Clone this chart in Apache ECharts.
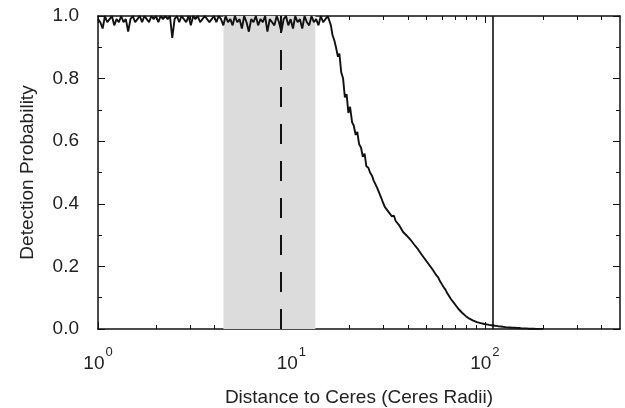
<!DOCTYPE html>
<html>
<head>
    <meta charset="utf-8">
    <title>Detection probability vs distance to Ceres</title>
    <script src="https://cdn.jsdelivr.net/npm/echarts@6/dist/echarts.min.js"></script>
</head>
<body style="margin:0;background:#fff;">
    <div id="main" style="width:625px;height:408px;"></div>
    <script type="text/javascript">
        // x positions of the flat part: log-spaced bins from 1 to ~15 Ceres radii
        var flatLogStep = 0.012;
        var flatProb = [
            0.99, 0.98, 0.96, 1.0, 0.98, 0.99, 1.0, 0.97, 0.99, 0.98,
            1.0, 0.98, 0.99, 0.95, 0.99, 1.0, 0.98, 0.99, 1.0, 0.98,
            1.0, 0.99, 0.98, 1.0, 0.99, 1.0, 0.98, 1.0, 0.99, 1.0,
            0.99, 1.0, 0.93, 0.99, 1.0, 0.98, 1.0, 0.99, 0.98, 1.0,
            0.97, 1.0, 0.99, 1.0, 0.98, 0.99, 1.0, 0.99, 0.98, 0.99,
            1.0, 0.98, 1.0, 0.99, 0.97, 1.0, 0.98, 0.99, 0.97, 1.0,
            0.98, 0.99, 0.96, 1.0, 0.98, 0.95, 0.99, 0.98, 1.0, 0.97,
            0.99, 0.98, 1.0, 0.95, 0.99, 0.98, 0.97, 1.0, 0.98, 0.95,
            0.99, 1.0, 0.97, 0.99, 0.96, 1.0, 0.98, 0.99, 0.96, 1.0,
            0.98, 0.97, 1.0, 0.98, 0.99, 0.97, 1.0, 0.98, 0.99, 1.0
        ];
        // falling part, [distance, probability]
        var tailPoints = [
            [16.0, 0.97], [16.3, 0.94], [16.7, 0.92], [17.0, 0.90], [17.4, 0.87], [17.7, 0.88],
            [18.1, 0.82], [18.5, 0.80], [18.9, 0.74], [19.3, 0.75], [19.7, 0.69], [20.1, 0.71],
            [20.6, 0.66], [21.0, 0.65], [21.5, 0.62], [21.9, 0.63], [22.4, 0.59], [22.9, 0.58],
            [23.4, 0.55], [23.9, 0.56], [24.4, 0.52], [25.0, 0.515], [25.5, 0.50], [26.1, 0.49],
            [26.6, 0.475], [27.2, 0.47], [27.8, 0.45], [28.4, 0.445], [29.1, 0.42], [29.7, 0.405],
            [30.4, 0.39], [31.0, 0.395], [31.7, 0.375], [32.4, 0.38], [33.1, 0.36], [33.9, 0.362],
            [34.6, 0.345], [35.4, 0.348], [36.2, 0.33], [37.0, 0.325], [37.8, 0.31], [38.6, 0.312],
            [39.5, 0.298], [40.4, 0.30], [41.3, 0.285], [42.2, 0.283], [43.1, 0.27], [44.1, 0.272],
            [45.1, 0.255], [46.1, 0.252], [47.1, 0.238], [48.1, 0.236], [49.2, 0.222], [50.3, 0.22],
            [51.4, 0.206], [52.5, 0.203], [53.7, 0.19], [54.9, 0.184], [56.1, 0.172], [57.4, 0.165],
            [58.6, 0.153], [59.9, 0.148], [61.3, 0.133], [62.6, 0.126], [64.0, 0.114], [65.5, 0.11],
            [66.9, 0.095], [68.4, 0.09], [69.9, 0.08], [71.5, 0.074], [73.1, 0.064], [74.7, 0.06],
            [76.3, 0.052], [78.0, 0.047], [79.8, 0.041], [81.5, 0.04], [83.3, 0.033], [85.2, 0.032],
            [87.1, 0.027], [89.0, 0.026], [91.0, 0.022], [93.0, 0.022], [95.1, 0.019], [97.2, 0.019],
            [99.4, 0.016], [102, 0.015], [105, 0.013], [108, 0.012], [111, 0.011], [114, 0.01],
            [117, 0.009], [121, 0.008], [124, 0.007], [128, 0.006], [131, 0.006], [135, 0.005],
            [139, 0.004], [143, 0.004], [147, 0.003], [151, 0.003], [155, 0.002], [160, 0.002],
            [164, 0.002], [169, 0.001], [174, 0.001], [179, 0.001], [184, 0.0005], [190, 0.0005],
            [200, 0.0003]
        ];
        var shadeRange = [4.45, 13.3];
        var dashedAt = 8.8;
        var solidAt = 110;
        var xMajorTicks = [1, 10, 100];
        var xMinorTicks = [2, 3, 4, 5, 6, 7, 8, 9, 20, 30, 40, 50, 60, 70, 80, 90, 200, 300, 400];

        var curve = flatProb.map(function (p, i) {
            return [Math.pow(10, i * flatLogStep), p];
        }).concat(tailPoints);

        var font = "'Liberation Sans', Arial, sans-serif";
        var textColor = '#222';

        function logAxis(pos, ticks, len, withLabels, withLine) {
            return {
                type: 'log', logBase: 10, min: 1, max: 500, position: pos,
                axisLine: { show: withLine, onZero: false, lineStyle: { color: '#111', width: 1.5 } },
                axisTick: { show: true, inside: true, length: len, customValues: ticks,
                    lineStyle: { color: '#111', width: 1 } },
                axisLabel: withLabels ? {
                    show: true, margin: 17, customValues: xMajorTicks,
                    fontFamily: font, color: textColor,
                    formatter: function (v) {
                        return '{b|10}{s|' + Math.round(Math.log10(v)) + '}';
                    },
                    rich: {
                        b: { fontSize: 19, fontFamily: font, color: textColor, verticalAlign: 'bottom', padding: [8, 0, 0, 0] },
                        s: { fontSize: 13, fontFamily: font, color: textColor, verticalAlign: 'top', padding: [0, 0, 9, 1] }
                    }
                } : { show: false },
                splitLine: { show: false },
                minorTick: { show: false },
                name: withLabels ? 'Distance to Ceres (Ceres Radii)' : '',
                nameLocation: 'middle', nameGap: 59,
                nameTextStyle: { fontSize: 19, fontFamily: font, color: textColor }
            };
        }

        function probAxis(pos, withLabels) {
            return {
                type: 'value', min: 0, max: 1, interval: 0.2, position: pos,
                axisLine: { show: true, onZero: false, lineStyle: { color: '#111', width: 1.5 } },
                axisTick: { show: true, inside: true, length: 7, lineStyle: { color: '#111', width: 1 } },
                minorTick: { show: true, splitNumber: 2, length: 4, lineStyle: { color: '#111', width: 1 } },
                axisLabel: withLabels ? {
                    show: true, margin: 19, fontSize: 19, fontFamily: font, color: textColor,
                    formatter: function (v) { return v.toFixed(1); }
                } : { show: false },
                splitLine: { show: false },
                name: withLabels ? 'Detection Probability' : '',
                nameLocation: 'middle', nameGap: 61,
                nameTextStyle: { fontSize: 19, fontFamily: font, color: textColor }
            };
        }

        var myChart = echarts.init(document.getElementById('main'), null, { renderer: 'canvas' });

        var option = {
            animation: false,
            backgroundColor: '#fff',
            grid: { left: 98, right: 5, top: 16, bottom: 79, containLabel: false, outerBoundsMode: 'none' },
            xAxis: [
                logAxis('bottom', xMajorTicks, 7, true, true),
                logAxis('bottom', xMinorTicks, 4, false, false),
                logAxis('top', xMajorTicks, 7, false, true),
                logAxis('top', xMinorTicks, 4, false, false)
            ],
            yAxis: [probAxis('left', true), probAxis('right', false)],
            series: [{
                type: 'line',
                xAxisIndex: 0, yAxisIndex: 0,
                data: curve,
                showSymbol: false,
                lineStyle: { color: '#111', width: 1.9 },
                z: 5,
                markArea: {
                    silent: true,
                    itemStyle: { color: '#dcdcdc' },
                    data: [[{ xAxis: shadeRange[0] }, { xAxis: shadeRange[1] }]]
                },
                markLine: {
                    silent: true,
                    symbol: 'none',
                    label: { show: false },
                    data: [
                        { xAxis: dashedAt, lineStyle: { color: '#111', width: 2, type: [20, 17] } },
                        { xAxis: solidAt, lineStyle: { color: '#111', width: 1.6, type: 'solid' } }
                    ]
                }
            }]
        };

        myChart.setOption(option);
    </script>
</body>
</html>
